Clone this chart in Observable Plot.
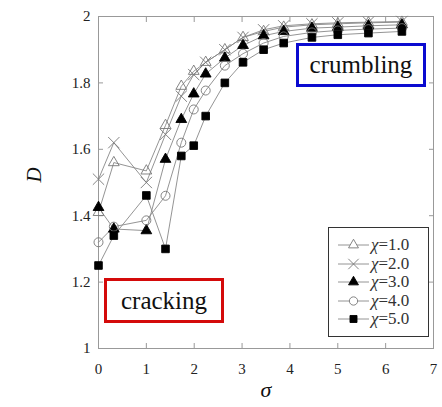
<!DOCTYPE html>
<html><head><meta charset="utf-8">
<script src="https://cdn.jsdelivr.net/npm/d3@7"></script>
<script src="https://cdn.jsdelivr.net/npm/@observablehq/plot@0.6"></script>
<style>
body{margin:0;background:#fff;font-family:'Liberation Serif','Noto Serif CJK SC',serif;}
#wrap{position:relative;width:442px;height:407px;overflow:hidden;}
#wrap svg.plot{position:absolute;left:0;top:0;}
.ann{position:absolute;box-sizing:border-box;display:flex;align-items:center;justify-content:center;color:#111;background:#fff;font-size:25px;font-family:'Liberation Serif','Noto Serif CJK SC','Noto Serif CJK JP',serif;}
#legend{position:absolute;left:328px;top:227px;width:101px;height:110px;box-sizing:border-box;border:1.5px solid #333;background:#fff;padding-top:8px;font-family:'Liberation Serif','Noto Serif CJK SC',serif;}
.lrow{display:flex;align-items:center;height:18.5px;font-size:17px;color:#333;}
.lrow svg{margin-left:9px;margin-right:2px;}
.lrow i{font-style:italic;}
</style></head>
<body><div id="wrap"></div>
<script>
// σ values (shared by all series)
const sigma = [0, 0.32, 1.0, 1.4, 1.73, 1.99, 2.24, 2.64, 3.02, 3.45, 3.87, 4.46, 5.0, 5.64, 6.34];
// D values for each χ
const chi1 = [1.41, 1.56, 1.535, 1.672, 1.79, 1.835, 1.862, 1.90, 1.937, 1.955, 1.968, 1.975, 1.978, 1.981, 1.983];
const chi2 = [1.51, 1.62, 1.50, 1.645, 1.76, 1.825, 1.862, 1.90, 1.937, 1.96, 1.972, 1.978, 1.981, 1.983, 1.985];
const chi3 = [1.425, 1.36, 1.355, 1.57, 1.69, 1.767, 1.827, 1.875, 1.913, 1.942, 1.955, 1.965, 1.968, 1.972, 1.975];
const chi4 = [1.32, 1.367, 1.386, 1.46, 1.62, 1.72, 1.777, 1.852, 1.888, 1.92, 1.94, 1.952, 1.958, 1.962, 1.965];
const chi5 = [1.25, 1.34, 1.461, 1.30, 1.58, 1.611, 1.70, 1.80, 1.862, 1.90, 1.92, 1.937, 1.945, 1.95, 1.955];
const chiLabels = ["1.0", "2.0", "3.0", "4.0", "5.0"];
const xTicks = [0, 1, 2, 3, 4, 5, 6, 7];
const yTicks = [1, 1.2, 1.4, 1.6, 1.8, 2];
const xLabel = "σ";
const yLabel = "D";
const annCrumbling = "crumbling";
const annCracking = "cracking";

const seriesValues = [chi1, chi2, chi3, chi4, chi5];
const styles = [
  {symbol: "triangle", fill: "none", stroke: "#777", r: 4.0},
  {symbol: "times", fill: "none", stroke: "#777", r: 5.2},
  {symbol: "triangle", fill: "#000", stroke: "#000", r: 4.0},
  {symbol: "circle", fill: "none", stroke: "#777", r: 4.5},
  {symbol: "square", fill: "#000", stroke: "#000", r: 4.3}
];

const rows = [];
seriesValues.forEach((vals, i) => vals.forEach((D, j) => rows.push({sigma: sigma[j], D, chi: chiLabels[i], i})));

const fmt = d => String(+d.toFixed(1));
const SERIF = "'Liberation Serif', 'Noto Serif CJK SC', serif";

const marks = [
  Plot.frame({stroke: "#999", strokeWidth: 1}),
  Plot.axisX(xTicks, {anchor: "bottom", tickSize: -5, tickPadding: 20, stroke: "#999", fill: "#222", label: null, fontSize: 15, tickFormat: fmt}),
  Plot.axisX(xTicks, {anchor: "top", tickSize: -5, stroke: "#999", label: null, tickFormat: () => ""}),
  Plot.axisY(yTicks, {anchor: "left", tickSize: -5, tickPadding: 13, stroke: "#999", fill: "#222", label: null, fontSize: 15, tickFormat: fmt}),
  Plot.axisY(yTicks, {anchor: "right", tickSize: -5, stroke: "#999", label: null, tickFormat: () => ""}),
  Plot.text([xLabel], {frameAnchor: "bottom", dy: 48, fontStyle: "italic", fontSize: 22, fill: "#111"}),
  Plot.text([yLabel], {frameAnchor: "left", dx: -64, rotate: -90, fontStyle: "italic", fontSize: 21, fill: "#111"})
];
seriesValues.forEach((vals, i) => {
  const d = rows.filter(r => r.i === i);
  marks.push(Plot.line(d, {x: "sigma", y: "D", stroke: "#888", strokeWidth: 0.9}));
});
seriesValues.forEach((vals, i) => {
  const d = rows.filter(r => r.i === i);
  const s = styles[i];
  marks.push(Plot.dot(d, {x: "sigma", y: "D", symbol: () => s.symbol, r: s.r, fill: s.fill, stroke: s.stroke, strokeWidth: 0.9}));
});

const plot = Plot.plot({
  width: 442, height: 407,
  marginLeft: 98, marginRight: 9, marginTop: 16, marginBottom: 59,
  style: {fontFamily: SERIF, fontSize: "15px", background: "transparent", color: "#222"},
  x: {domain: [0, 7]},
  y: {domain: [1, 2]},
  symbol: {type: "identity"},
  marks
});
plot.classList.add("plot");
const wrap = document.getElementById("wrap");
wrap.appendChild(plot);

// annotations
function ann(text, left, top, w, h, color) {
  const el = document.createElement("div");
  el.className = "ann";
  el.textContent = text;
  Object.assign(el.style, {left: left + "px", top: top + "px", width: w + "px", height: h + "px", border: "3.5px solid " + color});
  wrap.appendChild(el);
}
ann(annCrumbling, 296, 43, 130, 44, "#0a0ad0");
ann(annCracking, 104, 278, 120, 45, "#d40a0a");

// legend
const legend = document.createElement("div");
legend.id = "legend";
const symMap = {triangle: d3.symbolTriangle, times: d3.symbolTimes, circle: d3.symbolCircle, square: d3.symbolSquare};
chiLabels.forEach((lab, i) => {
  const s = styles[i];
  const row = document.createElement("div");
  row.className = "lrow";
  const svg = d3.create("svg").attr("width", 31).attr("height", 14);
  svg.append("line").attr("x1", 0).attr("x2", 31).attr("y1", 7).attr("y2", 7).attr("stroke", "#888").attr("stroke-width", 0.9);
  svg.append("path").attr("transform", "translate(15.5,7)")
    .attr("d", d3.symbol(symMap[s.symbol], Math.PI * s.r * s.r * 0.85)())
    .attr("fill", s.fill === "none" ? "#fff" : s.fill).attr("stroke", s.stroke).attr("stroke-width", 0.9);
  row.appendChild(svg.node());
  const t = document.createElement("span");
  t.innerHTML = "<i>χ</i>=" + lab;
  row.appendChild(t);
  legend.appendChild(row);
});
wrap.appendChild(legend);
</script>
</body></html>
